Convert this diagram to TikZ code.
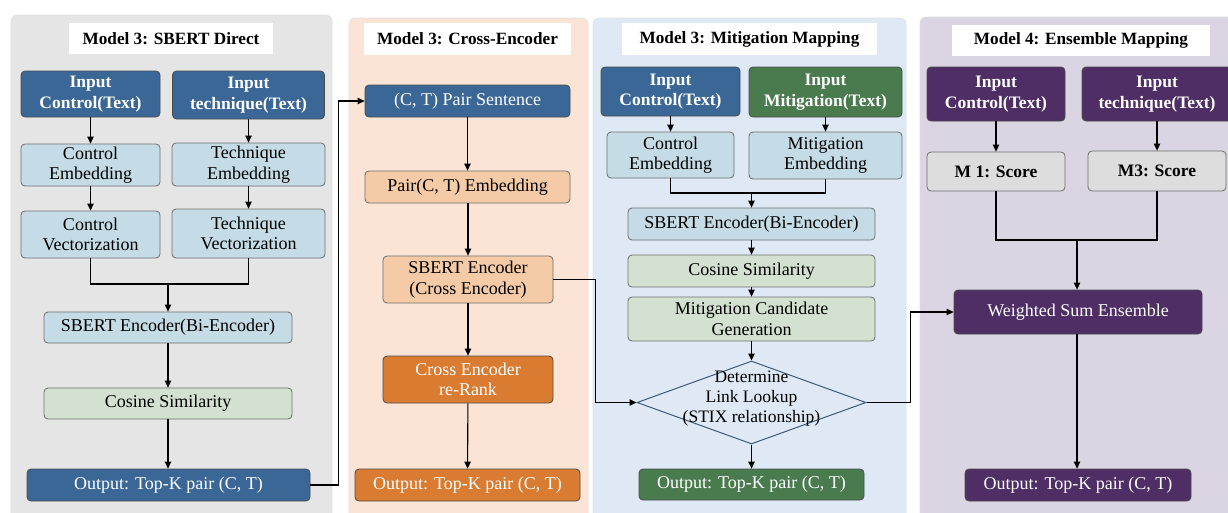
\documentclass[tikz,border=0pt]{standalone}
\usepackage{fontspec}
\setmainfont{Liberation Serif}
\usetikzlibrary{arrows.meta,shapes.geometric}

\definecolor{panelgrey}{HTML}{E5E5E5}
\definecolor{panelpeach}{HTML}{FBE4D6}
\definecolor{panelblue}{HTML}{DEE9F5}
\definecolor{panelpurple}{HTML}{DAD4E3}
\definecolor{navy}{HTML}{3A6795}
\definecolor{paleblue}{HTML}{C5DBE6}
\definecolor{palegreen}{HTML}{D3E2D0}
\definecolor{peach}{HTML}{F5CBA7}
\definecolor{orange}{HTML}{D97B30}
\definecolor{forest}{HTML}{4A7B4E}
\definecolor{plum}{HTML}{4F2E66}
\definecolor{lightgrey}{HTML}{DDDDDD}
\definecolor{edgegrey}{HTML}{6E6E6E}
\definecolor{diamondline}{HTML}{3E5A78}

\begin{document}
\begin{tikzpicture}[x=1pt,y=-1pt,
  font=\fontsize{18}{20.5}\selectfont,
  panel/.style={rounded corners=6pt, draw=black!12, line width=0.6pt},
  titlebox/.style={fill=white, inner sep=0pt, font=\fontsize{17.2}{20}\selectfont\bfseries},
  box/.style={rounded corners=4pt, line width=0.8pt, align=center, inner sep=1pt},
  darkbox/.style={box, text=white, draw=black!70},
  lightbox/.style={box, text=black, draw=edgegrey},
  inbox/.style={darkbox, font=\fontsize{17.5}{20.5}\selectfont\bfseries},
  arr/.style={-{Triangle[length=7pt,width=6.5pt]}, line width=1.1pt},
  wire/.style={line width=1.1pt}
]
\useasboundingbox (0,0) rectangle (1228,512);

% panels
\fill[panelgrey, panel]   (11,15)  rectangle (332,525);
\fill[panelpeach, panel]  (349,18) rectangle (588,525);
\fill[panelblue, panel]   (593,18) rectangle (906,525);
\fill[panelpurple, panel] (920,17) rectangle (1245,525);

% panel titles
\node[titlebox, minimum width=204pt, minimum height=31pt] (t1) at (171,38.5) {Model 3: SBERT Direct};
\node[titlebox, minimum width=207pt, minimum height=32pt] (t2) at (467.5,39) {Model 3: Cross-Encoder};
\node[titlebox, minimum width=255pt, minimum height=32pt] (t3) at (749.5,39) {Model 3: Mitigation Mapping};
\node[titlebox, minimum width=258pt, minimum height=31pt] (t4) at (1081,40.5) {Model 4: Ensemble Mapping};

% ---------- SBERT Direct ----------
\node[inbox, fill=navy, minimum width=139pt, minimum height=46pt] (a1) at (90.5,94) {Input\\Control(Text)};
\node[inbox, fill=navy, minimum width=152pt, minimum height=48pt] (a2) at (248.5,95) {Input\\technique(Text)};
\node[lightbox, fill=paleblue, minimum width=139pt, minimum height=42pt] (a3) at (90.5,165) {Control\\Embedding};
\node[lightbox, fill=paleblue, minimum width=153pt, minimum height=43pt] (a4) at (248.5,164.5) {Technique\\Embedding};
\node[lightbox, fill=paleblue, minimum width=139pt, minimum height=47pt] (a5) at (90.5,234.5) {Control\\Vectorization};
\node[lightbox, fill=paleblue, minimum width=153pt, minimum height=49pt] (a6) at (248.5,233.5) {Technique\\Vectorization};
\coordinate (am) at (168,284);
\node[lightbox, fill=paleblue, minimum width=248pt, minimum height=31pt] (a7) at (168,327.5) {SBERT Encoder(Bi-Encoder)};
\node[lightbox, fill=palegreen, minimum width=248pt, minimum height=31pt] (a8) at (168,403.5) {Cosine Similarity};
\node[darkbox, fill=navy, minimum width=283pt, minimum height=32pt] (a9) at (168.5,485) {Output: Top-K pair (C, T)};

\draw[arr] (a1) -- (a3);
\draw[arr] (a2) -- (a4);
\draw[arr] (a3) -- (a5);
\draw[arr] (a4) -- (a6);
\draw[wire] (a5.south) |- (am);
\draw[wire] (a6.south) |- (am);
\draw[arr] (am) -- (a7.north);
\draw[arr] (a7) -- (a8);
\draw[arr] (a8.south) -- (a8.south |- a9.north);

% ---------- Cross-Encoder ----------
\node[darkbox, fill=navy, minimum width=205pt, minimum height=32pt] (b1) at (467.5,101) {(C, T) Pair Sentence};
\node[lightbox, fill=peach, minimum width=205pt, minimum height=32pt] (b2) at (467.5,187) {Pair(C, T) Embedding};
\node[lightbox, fill=peach, minimum width=170pt, minimum height=47pt] (b3) at (468,279.5) {SBERT Encoder\\(Cross Encoder)};
\node[darkbox, fill=orange, minimum width=170pt, minimum height=47pt] (b4) at (468,379.5) {Cross Encoder\\re-Rank};
\node[darkbox, fill=orange, minimum width=225pt, minimum height=32pt] (b5) at (467.5,485) {Output: Top-K pair (C, T)};

\draw[arr] (a9.east) -- ++(28,0) |- (b1.west);
\draw[arr] (b1.south -| b2.north) -- (b2.north);
\draw[arr] (b2.south -| b3.north) -- (b3.north);
\draw[arr] (b3) -- (b4);
\draw[arr] (b4) -- (b5);

% ---------- Mitigation Mapping ----------
\node[inbox, fill=navy, minimum width=139pt, minimum height=49pt] (c1) at (670.5,91.5) {Input\\Control(Text)};
\node[inbox, fill=forest, minimum width=153pt, minimum height=50pt] (c2) at (825.5,92) {Input\\Mitigation(Text)};
\node[lightbox, fill=paleblue, minimum width=127pt, minimum height=46pt] (c3) at (670.5,155) {Control\\Embedding};
\node[lightbox, fill=paleblue, minimum width=153pt, minimum height=47pt] (c4) at (825.5,155.5) {Mitigation\\Embedding};
\coordinate (cm) at (751.5,193);
\node[lightbox, fill=paleblue, minimum width=247pt, minimum height=32pt] (c5) at (751.5,224) {SBERT Encoder(Bi-Encoder)};
\node[lightbox, fill=palegreen, minimum width=247pt, minimum height=32pt] (c6) at (751.5,271) {Cosine Similarity};
\node[lightbox, fill=palegreen, minimum width=247pt, minimum height=44pt] (c7) at (751.5,319) {Mitigation Candidate\\Generation};
\node[diamond, draw=diamondline, line width=1pt, minimum width=229pt, minimum height=83pt, inner sep=0pt] (c8) at (751.5,402.5) {};
\node[align=center, font=\fontsize{17.5}{20}\selectfont] (c8t) at (751.5,399) {Determine\\Link Lookup\\(STIX relationship)};
\node[darkbox, fill=forest, minimum width=225pt, minimum height=31pt] (c9) at (751.5,484.5) {Output: Top-K pair (C, T)};

\draw[arr] (c1) -- (c3);
\draw[arr] (c2) -- (c4);
\draw[wire] (c3.south) |- (cm);
\draw[wire] (c4.south) |- (cm);
\draw[arr] (cm) -- (c5.north);
\draw[arr] (c5) -- (c6);
\draw[arr] (c6) -- (c7);
\draw[arr] (c7.south) -- (c8.north);
\draw[arr] (c8.south) -- (c9.north);
\draw[arr] (b3.east) -- ++(42,0) |- (c8.west);

% ---------- Ensemble Mapping ----------
\node[inbox, fill=plum, minimum width=138pt, minimum height=54pt] (d1) at (996,94) {Input\\Control(Text)};
\node[inbox, fill=plum, minimum width=150pt, minimum height=54pt] (d2) at (1157,94) {Input\\technique(Text)};
\node[lightbox, fill=lightgrey, font=\fontsize{17.5}{20}\selectfont\bfseries, minimum width=138pt, minimum height=39pt] (d3) at (996,171.5) {M 1: Score};
\node[lightbox, fill=lightgrey, font=\fontsize{17.5}{20}\selectfont\bfseries, minimum width=138pt, minimum height=40pt] (d4) at (1157,171) {M3: Score};
\coordinate (dm) at (1077,240);
\node[darkbox, fill=plum, minimum width=248pt, minimum height=44pt] (d5) at (1078,312) {Weighted Sum Ensemble};
\node[darkbox, fill=plum, minimum width=226pt, minimum height=32pt] (d6) at (1078,485) {Output: Top-K pair (C, T)};

\draw[arr] (d1) -- (d3);
\draw[arr] (d2) -- (d4);
\draw[wire] (d3.south) |- (dm);
\draw[wire] (d4.south) |- (dm);
\draw[arr] (dm) -- (dm |- d5.north);
\draw[arr] (dm |- d5.south) -- (dm |- d6.north);
\draw[arr] (c8.east) -- ++(44,0) |- (d5.west);
\end{tikzpicture}
\end{document}
